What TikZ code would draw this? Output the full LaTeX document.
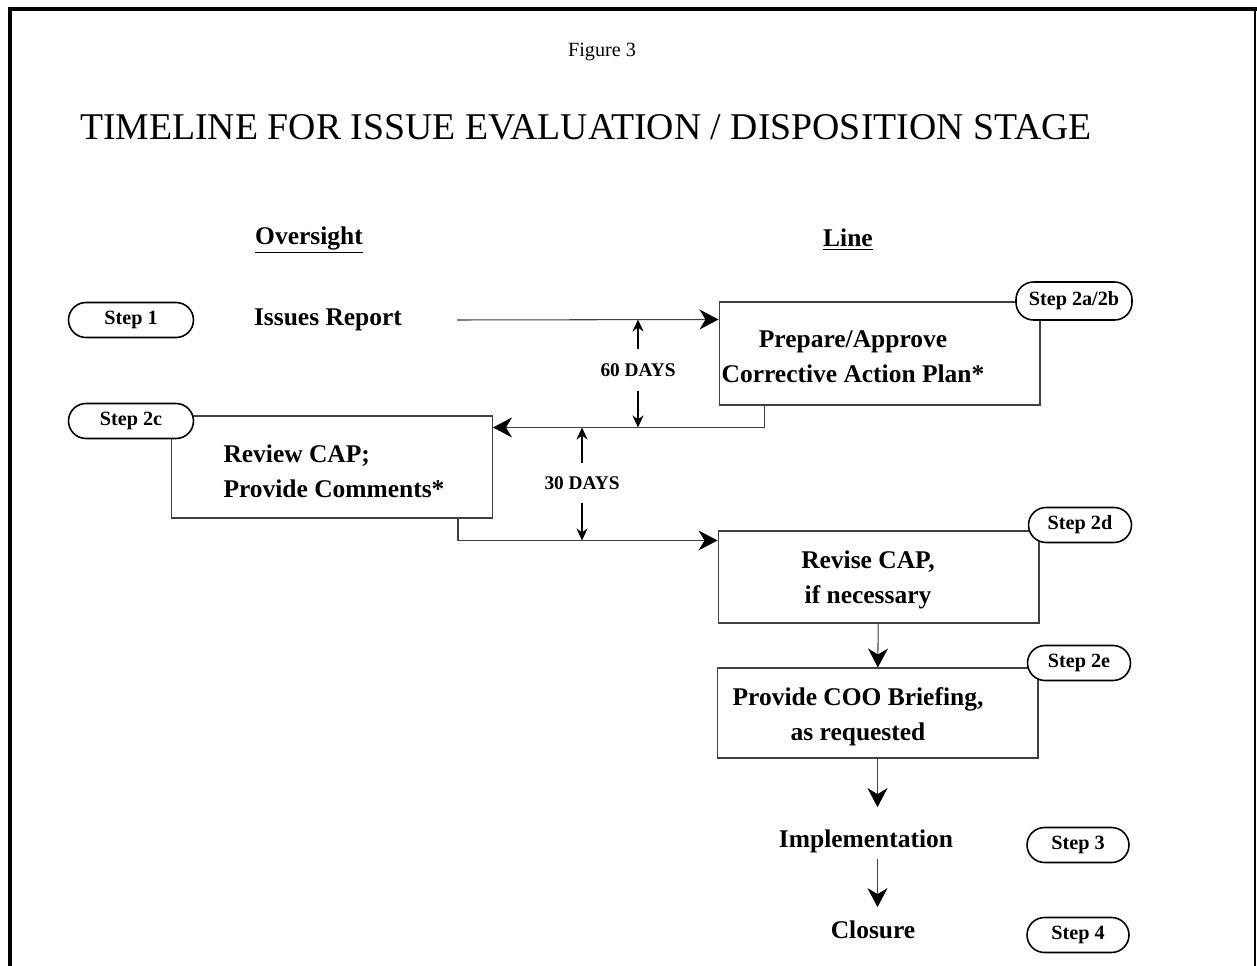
\documentclass[tikz,border=0pt]{standalone}
\usepackage{fontspec}
\setmainfont{Liberation Serif}
\usepackage{tikz}
\usetikzlibrary{arrows.meta}
\definecolor{boxgray}{HTML}{404040}

\tikzset{
  bigbox/.style={draw=boxgray, line width=0.6pt, minimum width=6.42cm, minimum height=2.04cm, inner sep=0pt},
  boxtext/.style={font=\fontsize{14.5}{20}\selectfont\bfseries, align=center},
  stepbox/.style={draw, line width=0.9pt, rounded corners=0.35cm, fill=white, inner sep=0pt,
    font=\fontsize{11.5}{13}\selectfont\bfseries, minimum height=0.7cm},
  flowline/.style={boxgray, line width=0.6pt},
  bigarrow/.style={flowline, -{Stealth[length=0.38cm, width=0.4cm, inset=0.12cm, color=black]}},
  dayarrow/.style={line width=1.6pt, -{Stealth[length=0.24cm, width=0.22cm]}},
  daytext/.style={font=\fontsize{11}{13}\selectfont\bfseries, inner sep=0pt},
  headtext/.style={font=\fontsize{14.5}{17}\selectfont\bfseries},
}

\begin{document}
\begin{tikzpicture}[x=0.02cm, y=-0.02cm]
  \useasboundingbox (0,0) rectangle (1257,966);

  % ── Frame ──
  \draw[line width=1.8pt] (10,966) -- (10,9) -- (1257,9);
  \draw[line width=0.6pt] (1255,9) -- (1255,966);

  % ── Headings ──
  \node[font=\fontsize{11.5}{14}\selectfont] (figno) at (602,52) {Figure 3};
  \node[font=\fontsize{21.5}{26}\selectfont] (title) at (586,127)
    {TIMELINE FOR ISSUE EVALUATION / DISPOSITION STAGE};
  \node[headtext] (oversight) at (309,240) {\underline{Oversight}};
  \node[headtext] (line) at (848,240) {\underline{Line}};

  % ── Step 1 ──
  \node[headtext] (issues) at (328,320) {Issues Report};
  \coordinate (issuesout) at (457,320);

  % Boxes
  \node[bigbox, minimum height=2.06cm] (prepbox) at (879.5,353.5) {};
  \node[boxtext] (preptext) at (853,357) {Prepare/Approve\\Corrective Action Plan*};
  \node[bigbox] (reviewbox) at (332,467) {};
  \node[boxtext, align=left] (reviewtext) at (334,471) {Review CAP;\\Provide Comments*};
  \node[bigbox, minimum height=1.84cm] (revisebox) at (878.5,577) {};
  \node[boxtext] (revisetext) at (868,580) {Revise CAP,\\if necessary};
  \node[bigbox, minimum height=1.8cm] (coobox) at (877.5,713) {};
  \node[boxtext] (cootext) at (858,717) {Provide COO Briefing,\\as requested};
  \node[headtext, anchor=base] (impl) at (866,847) {Implementation};
  \node[headtext, anchor=base] (closure) at (873,938) {Closure};

  % Step pills
  \node[stepbox, minimum width=2.5cm] (step1) at (131,320) {Step 1};
  \node[stepbox, minimum width=2.5cm] (step2c) at (131,421) {Step 2c};
  \node[stepbox, minimum width=2.32cm, minimum height=0.76cm] (step2ab) at (1074,301) {Step 2a/2b};
  \node[stepbox, minimum width=2.06cm] (step2d) at (1080,525) {Step 2d};
  \node[stepbox, minimum width=2.06cm] (step2e) at (1079,663) {Step 2e};
  \node[stepbox, minimum width=2.04cm] (step3) at (1078,845) {Step 3};
  \node[stepbox, minimum width=2.04cm] (step4) at (1078,935) {Step 4};

  % ── Connectors ──
  \coordinate (prepin) at ([yshift=-0.36cm]prepbox.north west);
  \coordinate (revin) at ([yshift=-0.24cm]reviewbox.north east);
  \coordinate (revisein) at ([yshift=-0.2cm]revisebox.north west);
  \draw[bigarrow] (issuesout) -- (prepin);
  \draw[bigarrow] ([xshift=0.92cm]prepbox.south west) |- (revin);
  \draw[bigarrow] ([xshift=-0.7cm]reviewbox.south east) |- (revisein);
  \draw[bigarrow] (revisebox) -- (coobox);
  \draw[bigarrow, shorten >=0.32cm] (coobox) -- (coobox |- impl.north);
  \draw[bigarrow, shorten >=0.14cm] (coobox |- impl.south) -- (coobox |- closure.north);

  % Day spans
  \node[daytext, minimum height=0.84cm] (days60) at (638,370) {60 DAYS};
  \draw[dayarrow] (days60.north) -- (days60.north |- prepin);
  \draw[dayarrow] (days60.south) -- (days60.south |- revin);
  \node[daytext, minimum height=0.8cm] (days30) at (582,483) {30 DAYS};
  \draw[dayarrow] (days30.north) -- (days30.north |- revin);
  \draw[dayarrow] (days30.south) -- (days30.south |- revisein);

\end{tikzpicture}
\end{document}
